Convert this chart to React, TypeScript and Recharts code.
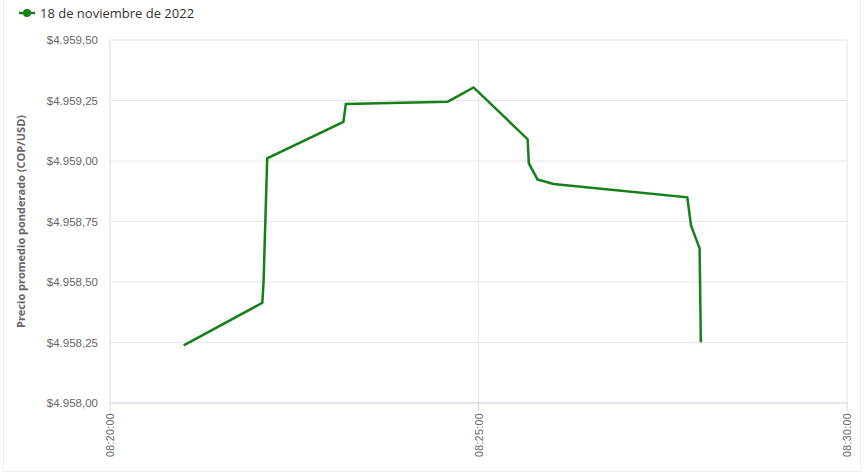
import { LineChart, Line, XAxis, YAxis, CartesianGrid, Legend } from 'recharts';

const TIMES = [
  '08:21:00', '08:22:04', '08:22:05', '08:22:08', '08:23:10', '08:23:12', '08:24:35', '08:24:56',
  '08:25:40', '08:25:41', '08:25:48', '08:26:01', '08:27:50', '08:27:53', '08:28:00', '08:28:01',
];
const PRICES = [
  4958.238, 4958.414, 4958.498, 4959.011, 4959.162, 4959.236, 4959.245, 4959.304,
  4959.09, 4958.99, 4958.924, 4958.905, 4958.85, 4958.734, 4958.639, 4958.251,
];
const X_TICKS = ['08:20:00', '08:25:00', '08:30:00'];
const Y_TICKS = [4958, 4958.25, 4958.5, 4958.75, 4959, 4959.25, 4959.5];
const SERIES_NAME = '18 de noviembre de 2022';
const GREEN = '#157f18';

const START = '08:20:00';
const toSec = (t: string) => {
  const [h, m, s] = t.split(':').map(Number);
  return h * 3600 + m * 60 + s;
};
const fromSec = (v: number) => {
  const total = toSec(START) + v;
  const pad = (n: number) => String(n).padStart(2, '0');
  return `${pad(Math.floor(total / 3600))}:${pad(Math.floor((total % 3600) / 60))}:${pad(total % 60)}`;
};

const data = TIMES.map((t, i) => ({ t: toSec(t) - toSec(START), price: PRICES[i] }));

const money = (v: number) => {
  const [int, dec] = v.toFixed(2).split('.');
  return '$' + int.replace(/\B(?=(\d{3})+(?!\d))/g, '.') + ',' + dec;
};

const tickFont = "'Liberation Sans Narrow', 'Liberation Sans', Arial, sans-serif";

function TimeTick({ x, y, payload }: any) {
  const ty = y;
  return (
    <text
      x={x}
      y={ty}
      transform={`rotate(-90 ${x} ${ty})`}
      textAnchor="end"
      dominantBaseline="central"
      fill="#666"
      fontSize={10.5}
      fontFamily={tickFont}
      letterSpacing={0.4}
    >
      {fromSec(payload.value)}
    </text>
  );
}

function LegendContent() {
  return (
    <div style={{ display: 'flex', alignItems: 'center', fontFamily: "'Open Sans', sans-serif", fontSize: 13, color: '#333' }}>
      <svg width={18} height={12} style={{ marginRight: 4 }}>
        <line x1={1} y1={6} x2={17} y2={6} stroke={GREEN} strokeWidth={2.5} />
        <circle cx={9} cy={6} r={4} fill={GREEN} />
      </svg>
      {SERIES_NAME}
    </div>
  );
}

export default function App() {
  return (
    <div style={{ position: 'absolute', left: 0, top: 0, width: 866, height: 474, background: '#fff' }}>
      <div style={{ position: 'absolute', left: 3, top: -2, width: 858, height: 474, border: '1px solid #f0f0f0', boxSizing: 'border-box' }} />
      <LineChart width={866} height={474} data={data} margin={{ top: 40, right: 19, bottom: 11, left: 0 }}>
        <CartesianGrid stroke="#e6e6e6" vertical horizontal />
        <XAxis
          dataKey="t"
          type="number"
          domain={[0, 600]}
          ticks={X_TICKS.map((t) => toSec(t) - toSec(START))}
          tick={<TimeTick />}
          height={60}
          stroke="#ccd6eb"
          tickLine={{ stroke: '#ccd6eb' }}
          tickSize={8}
          interval={0}
        />
        <YAxis
          type="number"
          domain={[4958, 4959.5]}
          ticks={Y_TICKS}
          tickFormatter={money}
          width={110}
          axisLine={{ stroke: '#e6e6e6' }}
          tickLine={false}
          tick={{ fill: '#666', fontSize: 11.5, fontFamily: tickFont, dx: -4 }}
          label={{
            value: 'Precio promedio ponderado (COP/USD)',
            angle: -90,
            position: 'insideLeft',
            dx: 16,
            style: { textAnchor: 'middle', fill: '#666', fontSize: 11, fontWeight: 'bold', fontFamily: "'Open Sans', sans-serif" },
          }}
        />
        <Legend
          verticalAlign="middle"
          align="center"
          content={<LegendContent />}
          wrapperStyle={{ top: 4, left: 18, width: 300 }}
        />
        <Line
          type="linear"
          dataKey="price"
          name={SERIES_NAME}
          stroke={GREEN}
          strokeWidth={2.5}
          dot={false}
          isAnimationActive={false}
        />
      </LineChart>
    </div>
  );
}
